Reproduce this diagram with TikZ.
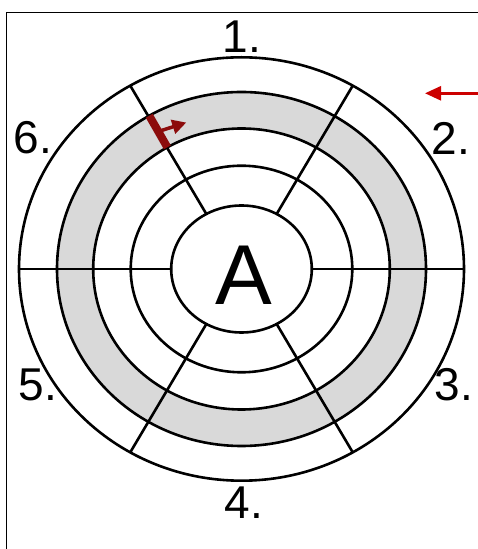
\documentclass[tikz,border=0pt]{standalone}
\usepackage{fontspec}
\setmainfont{Liberation Sans}
\usetikzlibrary{positioning,arrows.meta,calc}
\definecolor{bandgray}{RGB}{217,217,217}
\definecolor{markred}{RGB}{140,12,12}
\definecolor{inred}{RGB}{204,0,0}

\begin{document}
\begin{tikzpicture}[
  x=1pt, y=1pt,
  ring/.style={draw, line width=2.6pt},
  spoke/.style={draw, line width=2.6pt},
  seglabel/.style={inner sep=0pt, font=\fontsize{46}{54}\selectfont},
  frame/.style={draw, line width=1.6pt}
]
  \useasboundingbox (0,0) rectangle (478,549);
  \coordinate (C) at (241.5,280);

  % frame
  \coordinate (tl) at (6.5,536.5);
  \coordinate (tr) at (478,536.5);
  \coordinate (bl) at (6.5,0);
  \draw[frame] (tr) -- (tl) -- (bl);

  % gray band
  \fill[bandgray, even odd rule] (C) ellipse [x radius=184.5, y radius=177]
                                 (C) ellipse [x radius=148.3, y radius=140.5];

  % rings
  \draw[ring] (C) ellipse [x radius=222.5, y radius=211.7];
  \draw[ring] (C) ellipse [x radius=184.5, y radius=177];
  \draw[ring] (C) ellipse [x radius=148.3, y radius=140.5];
  \draw[ring] (C) ellipse [x radius=110.8, y radius=103.3];
  \draw[ring] (C) ellipse [x radius=70.3, y radius=63.5];

  % spokes
  \foreach \t in {0,60,120,180,240,300}
    \draw[spoke] ($(C)+(\t:222.5pt and 211.7pt)$) -- ($(C)+(\t:70.3pt and 63.5pt)$);

  \node (A) at (244,274) {\fontsize{85}{96}\selectfont A};

  % segment labels
  \node[seglabel] (lab1) at (242,512) {1.};
  \node[seglabel] (lab2) at (451,411) {2.};
  \node[seglabel] (lab3) at (454,164) {3.};
  \node[seglabel] (lab4) at (244,46) {4.};
  \node[seglabel] (lab5) at (38,164) {5.};
  \node[seglabel] (lab6) at (33,411) {6.};

  % marker on the spoke
  \coordinate (bo) at ($(C)+(120:184.5pt and 177pt)$);
  \coordinate (bi) at ($(C)+(120:148.3pt and 140.5pt)$);
  \coordinate (bm) at ($(bo)!0.5!(bi)$);
  \coordinate (bt) at ($(bm)+(28,9)$);
  \draw[markred, line width=8pt] (bo) -- (bi);
  \draw[markred, line width=3.5pt, -{Triangle[length=14pt,width=14pt]}] (bm) -- (bt);

  % incoming arrow
  \coordinate (as) at (478,455.7);
  \coordinate (ae) at (425,455.7);
  \draw[inred, line width=2.6pt, -{Triangle[length=16pt,width=14pt]}] (as) -- (ae);
\end{tikzpicture}
\end{document}
